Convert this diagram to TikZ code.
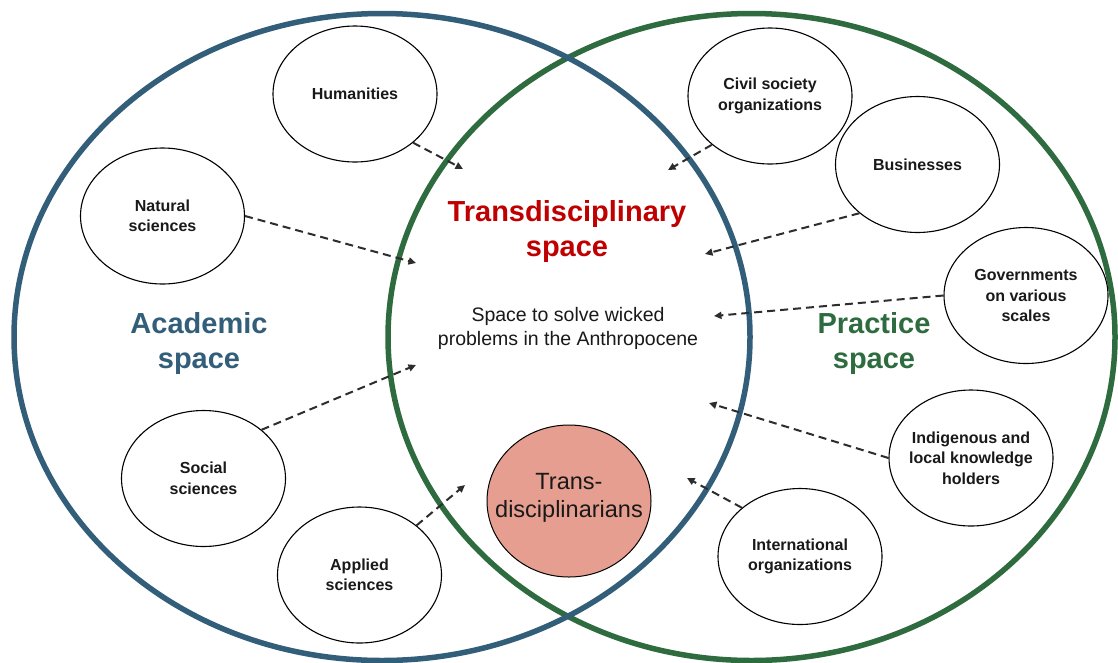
\documentclass[tikz,border=0pt]{standalone}
\usepackage{fontspec}
\setmainfont{Liberation Sans}
\usetikzlibrary{shapes.geometric,arrows.meta}
\definecolor{acblue}{RGB}{50,94,122}
\definecolor{prgreen}{RGB}{46,107,63}
\definecolor{tdred}{RGB}{192,0,0}
\definecolor{tdsalmon}{RGB}{229,158,144}
\definecolor{arrgray}{RGB}{45,45,45}
\definecolor{txtdark}{RGB}{25,25,25}
\begin{document}
\begin{tikzpicture}[x=1pt,y=-1pt,
  bigc/.style={ellipse, line width=5.5pt, inner sep=0pt, outer sep=0pt},
  field/.style={ellipse, draw=black, line width=1.1pt, fill=white,
    minimum width=164pt, minimum height=136pt, inner xsep=-30pt, inner ysep=0pt,
    align=center, text=txtdark, font=\fontsize{16}{20.5}\selectfont\bfseries},
  tdnode/.style={ellipse, draw=black, line width=1pt, fill=tdsalmon,
    minimum width=164pt, minimum height=152pt, inner sep=0pt},
  tdtext/.style={align=center, inner sep=0pt, text=txtdark, font=\fontsize{23.5}{28}\selectfont},
  spacelbl/.style={align=center, inner sep=0pt, font=\fontsize{29}{35.5}\selectfont\bfseries},
  conn/.style={draw=arrgray, line width=2pt, dash pattern=on 8pt off 5pt,
    -{Triangle[length=7.5pt,width=7pt]}}
]
\useasboundingbox (0,0) rectangle (1118,662);
\fill[white] (0,0) rectangle (1118,662);

% the two spaces
\node[bigc, draw=prgreen, minimum width=727pt, minimum height=647pt] (practice) at (751.5,337) {};
\node[bigc, draw=acblue, minimum width=736pt, minimum height=647pt] (academic) at (382,337) {};

% labels of the spaces
\node[spacelbl, text=tdred] (tdtitle) at (567,231.5) {Transdisciplinary\\space};
\node[spacelbl, text=acblue] (aclbl) at (199,343.5) {Academic\\space};
\node[spacelbl, text=prgreen] (prlbl) at (874,343.5) {Practice\\space};
\node[align=center, inner sep=0pt, text=txtdark, font=\fontsize{19.5}{24.5}\selectfont] (wicked) at (568,328.5)
  {Space to solve wicked\\problems in the Anthropocene};

% academic fields
\node[field] (hum) at (355,94) {Humanities};
\node[field] (nat) at (162.5,216) {Natural\\sciences};
\node[field] (soc) at (203.5,478.5) {Social\\sciences};
\node[field] (app) at (359.5,575) {Applied\\sciences};

% practice actors
\node[field] (civ) at (770,96) {Civil society\\organizations};
\node[field] (bus) at (917.5,164.5) {Businesses};
\node[field] (gov) at (1026,295.5) {Governments\\on various\\scales};
\node[field] (ind) at (971,458) {Indigenous and\\local knowledge\\holders};
\node[field] (int) at (800,556.5) {International\\organizations};

% transdisciplinarians
\node[tdnode] (td) at (569,501) {};
\node[tdtext] (tdlbl) at (td.center) [yshift=3.5pt] {Trans-\\disciplinarians};

% arrow targets
\coordinate (humT) at (463,169);
\coordinate (natT) at (416,263);
\coordinate (socT) at (416,365);
\coordinate (appT) at (465,485);
\coordinate (civT) at (668,170);
\coordinate (busT) at (705,254);
\coordinate (govT) at (714,316);
\coordinate (indT) at (709,403);
\coordinate (intT) at (687,478);

\draw[conn] (hum.-40) -- (humT);
\draw[conn] (nat.0) -- (natT);
\draw[conn] (soc.40) -- (socT);
\draw[conn] (app.41) -- (appT);
\draw[conn] (civ.220) -- (civT);
\draw[conn] (bus.220) -- (busT);
\draw[conn] (gov.180) -- (govT);
\draw[conn] (ind.180) -- (indT);
\draw[conn] (int.140) -- (intT);
\end{tikzpicture}
\end{document}
